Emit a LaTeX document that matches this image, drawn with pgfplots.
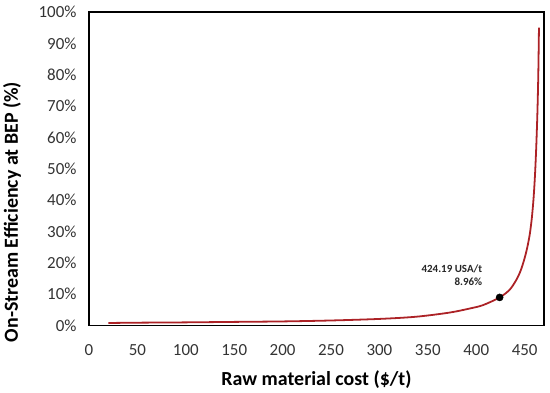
\documentclass[border=0pt]{standalone}
\usepackage{pgfplots}
\pgfplotsset{compat=1.18}
\usepackage{fontspec}
\setmainfont{Carlito}
\definecolor{curvered}{RGB}{172,34,38}
\begin{document}
\begin{tikzpicture}
\begin{axis}[
  name=ax,
  scale only axis,
  width=455bp, height=313.5bp,
  xmin=0, xmax=470,
  ymin=0, ymax=100,
  xtick={0,50,...,450},
  ytick={0,10,...,100},
  yticklabel={\pgfmathprintnumber{\tick}\%},
  /pgf/number format/assume math mode=true,
  tick style={draw=none},
  axis line style={black, line width=1.1pt},
  ticklabel style={font=\fontsize{17}{19}\selectfont, text=black!80},
  yticklabel style={xshift=-9bp},
  xticklabel style={yshift=-15bp},
  xlabel={\textbf{Raw material cost (\$/t)}},
  ylabel={\textbf{On-Stream Efficiency at BEP (\%)}},
  xlabel style={at={(rel axis cs:0.5,0)}, anchor=center, yshift=-54.5bp, font=\fontsize{20}{22}\selectfont},
  ylabel style={at={(rel axis cs:0,0.362)}, anchor=center, yshift=77bp, font=\fontsize{20}{22}\selectfont},
  clip=false,
]
\addplot[curvered, line width=1.8pt, smooth, tension=0.5] coordinates {
(20,0.8) (50,0.9) (100,1.0) (150,1.15) (200,1.3) (250,1.6) (300,2.1)
(338,2.8) (372,4.1) (393,5.4) (407,6.5) (424.19,8.96) (434.5,11.4)
(441.5,14.6) (446,17.6) (450,21.5) (453,25.3) (455.5,29.5) (457.5,34.5)
(459.2,40.5) (460.7,48) (462,57) (463.2,68) (464.1,80) (464.8,95)
};
\addplot[only marks, mark=*, mark size=3.6pt, black] coordinates {(424.19,8.96)};
\node[align=right, anchor=east, font=\fontsize{11}{14}\selectfont\bfseries, text=black!85, inner sep=0pt]
  at (axis cs:406.3,16.05) {424.19 USA/t\\8.96\%};
\end{axis}
\pgfresetboundingbox
\path ([xshift=-89bp,yshift=-67.5bp]ax.south west) rectangle ([xshift=6bp,yshift=12bp]ax.north east);
\end{tikzpicture}
\end{document}
